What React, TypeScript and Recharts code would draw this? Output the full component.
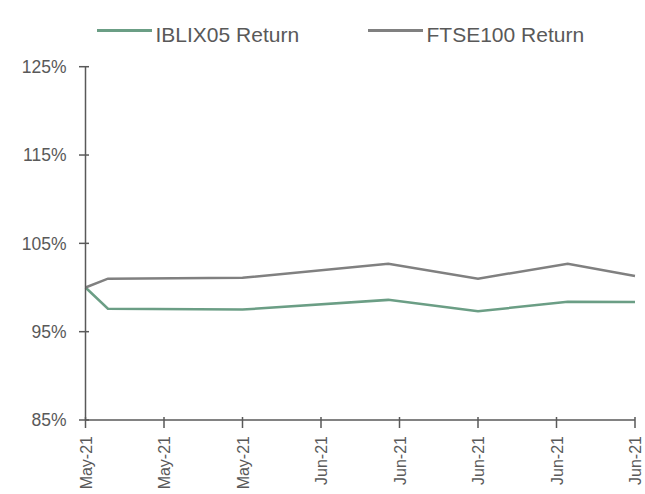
import React from 'react';
import { LineChart, Line, XAxis, YAxis, Legend } from 'recharts';

// day offsets from the first observation
const days = [0, 2, 14, 27, 35, 43, 49];
const iblixReturn = [100, 97.6, 97.5, 98.6, 97.3, 98.4, 98.35];
const ftseReturn = [100, 101.0, 101.1, 102.7, 101.0, 102.7, 101.3];

const xTicks = [0, 7, 14, 21, 28, 35, 42, 49];
const xTickLabels = ['May-21', 'May-21', 'May-21', 'Jun-21', 'Jun-21', 'Jun-21', 'Jun-21', 'Jun-21'];
const yTicks = [85, 95, 105, 115, 125];

const data = days.map((d, i) => ({ day: d, iblix: iblixReturn[i], ftse: ftseReturn[i] }));

const AXIS = '#595959';
const GREEN = '#6b9e85';
const GREY = '#808080';
const FONT = 'Liberation Sans, Arial, sans-serif';

const YTick = (props: any) => {
  const { x, y, payload } = props;
  return (
    <g>
      <line x1={x - 4.5} x2={x + 5.5} y1={y} y2={y} stroke={AXIS} strokeWidth={1.5} />
      <text x={x - 17} y={y} dy="0.36em" textAnchor="end" fill={AXIS} fontSize={17.5} fontFamily={FONT}>
        {payload.value}%
      </text>
    </g>
  );
};

const XTick = (props: any) => {
  const { x, y, payload, index } = props;
  return (
    <g>
      <line x1={x} x2={x} y1={y - 5} y2={y + 6} stroke={AXIS} strokeWidth={1.5} />
      <text
        transform={`translate(${x + 6},${y + 14}) rotate(-90)`}
        textAnchor="end"
        fill={AXIS}
        fontSize={16}
        fontFamily={FONT}
      >
        {xTickLabels[index] ?? payload.value}
      </text>
    </g>
  );
};

const legendItems = [
  { name: 'IBLIX05 Return', color: GREEN, left: 97 },
  { name: 'FTSE100 Return', color: GREY, left: 368 },
];

const renderLegend = () => (
  <div style={{ position: 'relative', fontFamily: FONT, fontSize: 21, color: AXIS, lineHeight: 'normal' }}>
    {legendItems.map((it) => (
      <React.Fragment key={it.name}>
        <span
          style={{ position: 'absolute', left: it.left, top: 29.2, width: 55, height: 3, background: it.color }}
        />
        <span style={{ position: 'absolute', left: it.left + 58.5, top: 22.9, whiteSpace: 'nowrap' }}>{it.name}</span>
      </React.Fragment>
    ))}
  </div>
);

export default function App() {
  return (
    <div style={{ position: 'absolute', left: 0, top: 0, width: 645, height: 494, background: '#fff' }}>
      <LineChart width={645} height={494} data={data} margin={{ top: 66.7, right: 10, bottom: 0, left: 0 }}>
        <Legend
          verticalAlign="top"
          align="left"
          content={renderLegend}
          wrapperStyle={{ position: 'absolute', top: 0, left: 0, width: 645, height: 0 }}
        />
        <XAxis
          dataKey="day"
          type="number"
          domain={[0, 49]}
          ticks={xTicks}
          interval={0}
          height={74}
          stroke={AXIS}
          strokeWidth={1.5}
          tickLine={false}
          tickSize={0}
          tick={<XTick />}
        />
        <YAxis
          domain={[85, 125]}
          ticks={yTicks}
          width={85.5}
          stroke={AXIS}
          strokeWidth={1.5}
          tickLine={false}
          tickSize={0}
          tick={<YTick />}
        />
        <Line type="linear" dataKey="iblix" name="IBLIX05 Return" stroke={GREEN} strokeWidth={2.5} dot={false} isAnimationActive={false} />
        <Line type="linear" dataKey="ftse" name="FTSE100 Return" stroke={GREY} strokeWidth={2.5} dot={false} isAnimationActive={false} />
      </LineChart>
    </div>
  );
}
